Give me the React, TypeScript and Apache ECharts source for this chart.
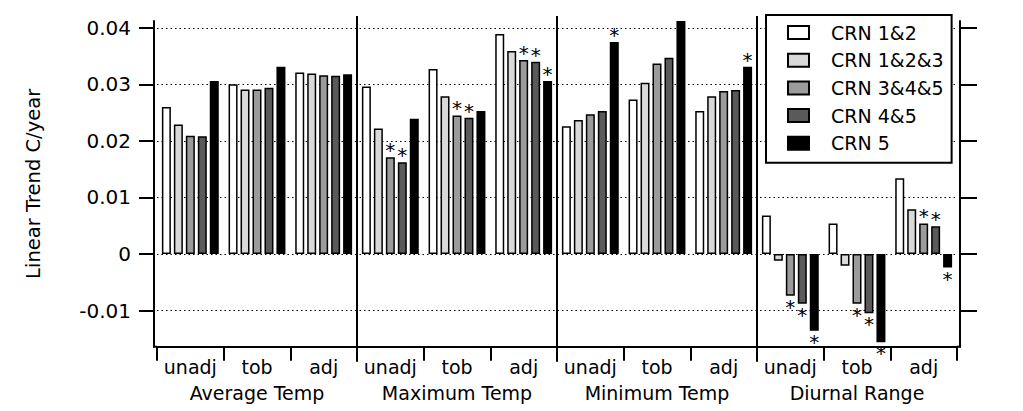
import React, { useEffect, useRef } from 'react';
import * as echarts from 'echarts';

const groupLabels = ['Average Temp', 'Maximum Temp', 'Minimum Temp', 'Diurnal Range'];
const subLabels = ['unadj', 'tob', 'adj'];
const seriesNames = ['CRN 1&2', 'CRN 1&2&3', 'CRN 3&4&5', 'CRN 4&5', 'CRN 5'];

// values per CRN class, ordered: Avg(unadj,tob,adj), Max(...), Min(...), Diurnal(...)
const crn12 = [0.0260, 0.0300, 0.0321, 0.0296, 0.0327, 0.0389, 0.0226, 0.0273, 0.0253, 0.0068, 0.0054, 0.0134];
const crn123 = [0.0229, 0.0291, 0.0319, 0.0222, 0.0279, 0.0359, 0.0237, 0.0303, 0.0279, -0.0012, -0.0021, 0.0079];
const crn345 = [0.0209, 0.0291, 0.0316, 0.0171, 0.0245, 0.0343, 0.0247, 0.0337, 0.0288, -0.0074, -0.0088, 0.0054];
const crn45 = [0.0208, 0.0294, 0.0315, 0.0162, 0.0241, 0.0340, 0.0253, 0.0347, 0.0290, -0.0088, -0.0105, 0.0049];
const crn5 = [0.0306, 0.0331, 0.0318, 0.0239, 0.0253, 0.0306, 0.0375, 0.0412, 0.0331, -0.0136, -0.0156, -0.0024];

// significance markers (asterisks)
const sig12 = [0, 0, 0, 0, 0, 0, 0, 0, 0, 0, 0, 0];
const sig123 = [0, 0, 0, 0, 0, 0, 0, 0, 0, 0, 0, 0];
const sig345 = [0, 0, 0, 1, 1, 1, 0, 0, 0, 1, 1, 1];
const sig45 = [0, 0, 0, 1, 1, 1, 0, 0, 0, 1, 1, 1];
const sig5 = [0, 0, 0, 0, 0, 1, 1, 0, 1, 1, 1, 1];

const yTicks = [-0.01, 0, 0.01, 0.02, 0.03, 0.04];
const yMin = -0.0164;
const yMax = 0.0412;

const seriesColors = ['#ffffff', '#d9d9d9', '#9b9b9b', '#5a5a5a', '#000000'];
const FONT = 'DejaVu Sans';

export default function App() {
  const ref = useRef<HTMLDivElement>(null);

  useEffect(() => {
    document.body.style.margin = '0';
    if (!ref.current) return;
    const chart = echarts.init(ref.current, null, { renderer: 'svg' });

    const categories: string[] = [];
    groupLabels.forEach((g) => subLabels.forEach((s) => categories.push(g + '|' + s)));

    const allValues = [crn12, crn123, crn345, crn45, crn5];
    const allSig = [sig12, sig123, sig345, sig45, sig5];

    const series = seriesNames.map((name, si) => ({
      name,
      type: 'bar',
      xAxisIndex: 0,
      yAxisIndex: 0,
      barWidth: 9,
      barGap: '33%',
      itemStyle: { color: seriesColors[si], borderColor: '#000', borderWidth: 1.5 },
      label: { show: false },
      emphasis: { disabled: true },
      data: allValues[si].map((v, i) =>
        allSig[si][i]
          ? {
              value: v,
              label: {
                show: true,
                formatter: '*',
                position: v >= 0 ? 'top' : 'bottom',
                distance: v >= 0 ? -3 : 1,
                fontSize: 20,
                color: '#000',
                fontFamily: FONT,
              },
            }
          : v
      ),
    }));

    chart.setOption({
      animation: false,
      textStyle: { fontFamily: FONT, color: '#000' },
      grid: { left: 157, right: 66, top: 21, bottom: 64.3, containLabel: false },
      legend: {
        orient: 'vertical',
        left: 766,
        top: 15,
        padding: [8, 8, 10, 21],
        itemWidth: 21,
        itemHeight: 13,
        itemGap: 8.7,
        icon: 'rect',
        borderColor: '#000',
        borderWidth: 2,
        backgroundColor: '#fff',
        textStyle: { fontFamily: FONT, fontSize: 19, color: '#000', lineHeight: 19, padding: [0, 0, 0, 17] },
        selectedMode: false,
        data: seriesNames,
      },
      xAxis: [
        {
          type: 'category',
          data: categories,
          position: 'bottom',
          axisLine: { show: true, onZero: false, lineStyle: { color: '#000', width: 2 } },
          axisTick: { show: true, length: 14, interval: 0, lineStyle: { color: '#000', width: 2 } },
          axisLabel: {
            interval: 0,
            margin: 11,
            fontSize: 19,
            color: '#000',
            fontFamily: FONT,
            formatter: (v: string) => v.split('|')[1],
          },
          splitLine: { show: false },
        },
        {
          type: 'category',
          data: groupLabels,
          position: 'bottom',
          axisLine: { show: false, onZero: false },
          axisTick: { show: false },
          axisLabel: { interval: 0, margin: 37, fontSize: 19, color: '#000', fontFamily: FONT },
          splitLine: { show: false },
        },
      ],
      yAxis: [
        {
          type: 'value',
          min: yMin,
          max: yMax,
          position: 'left',
          offset: 3,
          name: 'Linear Trend C/year',
          nameLocation: 'middle',
          nameGap: 111,
          nameTextStyle: { fontSize: 19.5, color: '#000', fontFamily: FONT },
          axisLine: { show: true, onZero: false, lineStyle: { color: '#000', width: 2 } },
          axisTick: { show: true, length: 15, lineStyle: { color: '#000', width: 2 }, customValues: yTicks },
          axisLabel: {
            margin: 23,
            fontSize: 20,
            color: '#000',
            fontFamily: FONT,
            customValues: yTicks,
            formatter: (v: number) => (Math.abs(v) < 1e-9 ? '0' : v.toFixed(2)),
          },
          splitLine: { show: true, lineStyle: { color: '#000', width: 1, type: [1.5, 3] } },
        },
        {
          type: 'value',
          min: yMin,
          max: yMax,
          position: 'right',
          offset: 3,
          axisLine: { show: true, onZero: false, lineStyle: { color: '#000', width: 2 } },
          axisTick: { show: true, length: 17, lineStyle: { color: '#000', width: 2 }, customValues: yTicks },
          axisLabel: { show: false, customValues: yTicks },
          splitLine: { show: false },
        },
      ],
      series,
    });

    // vertical separators between the four variable groups
    const xPix = (i: number) => chart.convertToPixel({ xAxisIndex: 0 }, i) as number;
    const yTop = (chart.convertToPixel({ yAxisIndex: 0 }, yMax) as number) - 5;
    const yAxisBottom = chart.convertToPixel({ yAxisIndex: 0 }, yMin) as number;
    const yBot = yAxisBottom + 15;
    const half = (xPix(1) - xPix(0)) / 2;
    const xLeft = xPix(0) - half;
    const xRight = xPix(categories.length - 1) + half;
    const seps: any[] = [3, 6, 9].map((k) => {
      const x = (xPix(k - 1) + xPix(k)) / 2;
      return {
        type: 'line',
        shape: { x1: x, y1: yTop, x2: x, y2: yBot },
        style: { stroke: '#000', lineWidth: 2 },
        silent: true,
        z: 5,
      };
    });
    // close the frame corners where the offset y axes meet the x axis
    seps.push({
      type: 'line',
      shape: { x1: xLeft - 4, y1: yAxisBottom, x2: xLeft, y2: yAxisBottom },
      style: { stroke: '#000', lineWidth: 2 },
      silent: true,
      z: 5,
    });
    seps.push({
      type: 'line',
      shape: { x1: xRight, y1: yAxisBottom, x2: xRight + 4, y2: yAxisBottom },
      style: { stroke: '#000', lineWidth: 2 },
      silent: true,
      z: 5,
    });
    chart.setOption({ graphic: seps });

    return () => chart.dispose();
  }, []);

  return <div ref={ref} style={{ width: 1023, height: 411 }} />;
}
